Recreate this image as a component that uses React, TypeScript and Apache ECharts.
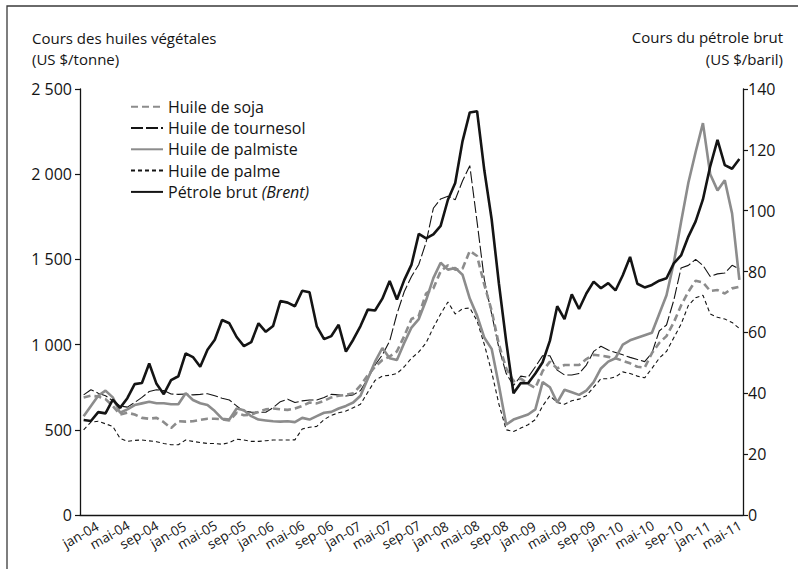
import React, { useEffect, useRef } from "react";
import * as echarts from "echarts";

const MONTH_NAMES = ["jan", "fév", "mar", "avr", "mai", "juin", "juil", "aoû", "sep", "oct", "nov", "déc"];
const START_YEAR = 4; // 2004
const N_MONTHS = 91; // jan-04 .. jul-11
const CATEGORIES: string[] = [];
for (let i = 0; i < N_MONTHS; i++) {
  CATEGORIES.push(`${MONTH_NAMES[i % 12]}-${String(START_YEAR + Math.floor(i / 12)).padStart(2, "0")}`);
}

const LEFT_TICKS = [0, 500, 1000, 1500, 2000, 2500];
const RIGHT_TICKS = [0, 20, 40, 60, 80, 100, 120, 140];

// US $/tonne
const SOJA = [
  690, 700, 695, 680, 640, 590, 600, 590, 570, 565, 570, 545,
  510, 550, 548, 550, 558, 565, 565, 562, 555, 600, 585, 590,
  605, 620, 625, 620, 617, 625, 640, 660, 655, 670, 690, 700,
  705, 714, 760, 820, 870, 910, 930, 960, 1050, 1150, 1170, 1300,
  1330, 1430, 1465, 1440, 1445, 1550, 1520, 1350, 1200, 1000, 860, 785,
  800, 770, 745, 845, 900, 860, 880, 880, 880, 915, 940, 935,
  928, 920, 905, 890, 870, 865, 950, 1010, 1050, 1130, 1230, 1310,
  1375, 1365, 1315, 1320, 1300, 1330, 1340,
];
const TOURNESOL = [
  705, 735, 715, 700, 670, 640, 633, 660, 690, 725, 735, 730,
  710, 708, 710, 705, 708, 712, 700, 685, 675, 640, 608, 604,
  603, 603, 630, 665, 680, 660, 670, 675, 675, 690, 708, 705,
  698, 705, 730, 800, 880, 940, 1020, 1180, 1310, 1400, 1470, 1600,
  1800, 1855, 1870, 1850, 1960, 2050, 1720, 1380, 1180, 980, 830, 760,
  815, 808, 870, 935, 935, 850, 822, 822, 830, 880, 960, 990,
  968, 954, 940, 925, 913, 900, 950, 1080, 1115, 1260, 1450, 1465,
  1500, 1465, 1400, 1415, 1420, 1465, 1445,
];
const PALMISTE = [
  580, 640, 700, 730, 690, 600, 620, 645, 655, 665, 656, 656,
  650, 650, 715, 675, 656, 645, 610, 565, 560, 625, 615, 580,
  560, 555, 550, 548, 550, 545, 570, 560, 580, 600, 605, 625,
  640, 660, 700, 800, 900, 980, 920, 910, 1010, 1100, 1150, 1260,
  1390, 1480, 1440, 1450, 1410, 1270, 1170, 1040, 975, 760, 530, 560,
  575, 590, 620, 780, 750, 660, 735, 720, 705, 730, 780, 860,
  900, 920, 1000, 1025, 1040, 1055, 1070, 1180, 1290, 1480, 1720, 1950,
  2130, 2300, 2000, 1905, 1965, 1770, 1380,
];
const PALME = [
  500, 545, 550, 535, 520, 450, 432, 438, 440, 435, 430, 420,
  412, 412, 440, 432, 425, 420, 420, 415, 425, 445, 440, 432,
  432, 436, 440, 440, 440, 441, 505, 515, 520, 560, 585, 600,
  610, 630, 650, 720, 790, 815, 820, 830, 870, 920, 957, 1010,
  1100, 1180, 1250, 1180, 1210, 1215, 1140, 1000, 840, 650, 500, 490,
  510, 530, 560, 640, 700, 660, 650, 670, 680, 700, 750, 800,
  800, 810, 840, 830, 815, 805, 860, 920, 960, 1040, 1120, 1230,
  1275, 1290, 1180, 1160, 1150, 1130, 1095,
];
// US $/baril
const BRENT = [
  31.2, 30.9, 33.8, 33.4, 37.9, 35.2, 38.4, 43.0, 43.4, 49.8, 43.1, 39.7,
  44.3, 45.6, 53.1, 51.9, 48.7, 54.3, 57.6, 64.1, 63.0, 58.5, 55.5, 56.8,
  63.0, 60.2, 62.1, 70.3, 69.8, 68.6, 73.7, 73.2, 62.0, 57.8, 58.8, 62.5,
  53.7, 57.6, 62.1, 67.5, 67.2, 71.1, 76.9, 70.8, 77.2, 82.3, 92.4, 90.9,
  92.2, 95.0, 103.6, 109.1, 122.8, 132.3, 132.7, 113.2, 97.2, 76.0, 57.0, 40.0,
  43.4, 43.3, 46.5, 50.2, 57.3, 68.6, 64.4, 72.5, 67.7, 72.8, 76.7, 74.5,
  76.2, 73.8, 78.8, 84.8, 76.0, 74.8, 75.6, 77.0, 77.8, 82.7, 85.3, 91.5,
  96.5, 103.7, 114.6, 123.3, 115.0, 113.8, 117.0,
];

const LEGEND_NAMES = ["Huile de soja", "Huile de tournesol", "Huile de palmiste", "Huile de palme", "Pétrole brut (Brent)"];
const LEFT_TITLE = ["Cours des huiles végétales", "(US $/tonne)"];
const RIGHT_TITLE = ["Cours du pétrole brut", "(US $/baril)"];

const FONT = "'Open Sans', 'Noto Sans', sans-serif";
const INK = "#141414";
const GREY = "#8c8c8c";

function fmtThousands(v: number): string {
  if (v >= 1000) return `${Math.floor(v / 1000)} ${String(v % 1000).padStart(3, "0")}`;
  return String(v);
}

export default function App() {
  const ref = useRef<HTMLDivElement>(null);
  useEffect(() => {
    if (!ref.current) return;
    const chart = echarts.init(ref.current, undefined, { renderer: "svg" });
    const baseSeries = (name: string, data: number[], lineStyle: any, yAxisIndex = 0, z = 2) => ({
      name,
      type: "line",
      data,
      yAxisIndex,
      z,
      symbol: "none",
      showSymbol: false,
      silent: true,
      lineStyle,
      itemStyle: { color: lineStyle.color },
      emphasis: { disabled: true },
    });
    const titleText = (text: string, x: number, y: number, align: string) => ({
      type: "text",
      x,
      y,
      style: { text, font: `15px ${FONT}`, fill: INK, textAlign: align, textVerticalAlign: "middle" },
    });
    chart.setOption({
      animation: false,
      textStyle: { fontFamily: FONT },
      grid: { left: 80, right: 55, top: 89, bottom: 54 },
      xAxis: {
        type: "category",
        data: CATEGORIES,
        boundaryGap: true,
        axisLine: { lineStyle: { color: INK, width: 1.3 } },
        axisTick: { interval: 3, length: 5, lineStyle: { color: INK, width: 1.2 } },
        axisLabel: {
          interval: 3,
          rotate: 30,
          align: "center",
          verticalAlign: "middle",
          margin: 18,
          color: INK,
          fontSize: 13.5,
          fontFamily: FONT,
          formatter: (v: string) => `{a|${v}}`,
          rich: { a: { padding: [0, 7, 0, 0], fontSize: 13.5, color: INK, fontFamily: FONT } },
        },
        splitLine: { show: false },
      },
      yAxis: [
        {
          type: "value",
          min: LEFT_TICKS[0],
          max: LEFT_TICKS[LEFT_TICKS.length - 1],
          interval: LEFT_TICKS[1] - LEFT_TICKS[0],
          axisLine: { show: true, lineStyle: { color: INK, width: 1.3 } },
          axisTick: { show: true, length: 5, lineStyle: { color: INK, width: 1.2 } },
          axisLabel: { formatter: fmtThousands, color: INK, fontSize: 16, margin: 8, fontFamily: FONT },
          splitLine: { show: false },
        },
        {
          type: "value",
          position: "right",
          min: RIGHT_TICKS[0],
          max: RIGHT_TICKS[RIGHT_TICKS.length - 1],
          interval: RIGHT_TICKS[1] - RIGHT_TICKS[0],
          axisLine: { show: true, lineStyle: { color: INK, width: 1.3 } },
          axisTick: { show: true, length: 5, lineStyle: { color: INK, width: 1.2 } },
          axisLabel: { color: INK, fontSize: 16, margin: 5, fontFamily: FONT },
          splitLine: { show: false },
        },
      ],
      legend: {
        data: LEGEND_NAMES,
        orient: "vertical",
        left: 130,
        top: 98.7,
        padding: 0,
        itemWidth: 32,
        itemHeight: 14,
        itemGap: 5.3,
        selectedMode: false,
        itemStyle: { opacity: 0 },
        formatter: (name: string) =>
          name === "Pétrole brut (Brent)" ? "{n|Pétrole brut }{i|(Brent)}" : `{n|${name}}`,
        textStyle: {
          color: INK,
          fontSize: 16,
          fontFamily: FONT,
          rich: {
            n: { fontSize: 16, lineHeight: 16, color: INK, fontFamily: FONT },
            i: { fontSize: 16, lineHeight: 16, color: INK, fontStyle: "italic", fontFamily: FONT },
          },
        },
      },
      graphic: [
        {
          type: "rect",
          shape: { x: 7, y: 6, width: 820, height: 600 },
          style: { fill: "none", stroke: "#3a3a3a", lineWidth: 1.3 },
          silent: true,
        },
        titleText(LEFT_TITLE[0], 32, 37.5, "left"),
        titleText(LEFT_TITLE[1], 32, 58.5, "left"),
        titleText(RIGHT_TITLE[0], 783, 37, "right"),
        titleText(RIGHT_TITLE[1], 783, 58.5, "right"),
      ],
      series: [
        baseSeries("Huile de palme", PALME, { color: INK, width: 1.1, type: [4, 3] }, 0, 2),
        baseSeries("Huile de tournesol", TOURNESOL, { color: INK, width: 1.1, type: [12, 3] }, 0, 2),
        baseSeries("Huile de palmiste", PALMISTE, { color: GREY, width: 2.6, type: "solid" }, 0, 3),
        baseSeries("Huile de soja", SOJA, { color: GREY, width: 2.6, type: [7, 4] }, 0, 3),
        baseSeries("Pétrole brut (Brent)", BRENT, { color: INK, width: 2.6, type: "solid" }, 1, 4),
      ],
    });
    return () => chart.dispose();
  }, []);
  return (
    <div
      ref={ref}
      style={{ position: "absolute", left: 0, top: 0, width: 798, height: 569, background: "#fff" }}
    />
  );
}
